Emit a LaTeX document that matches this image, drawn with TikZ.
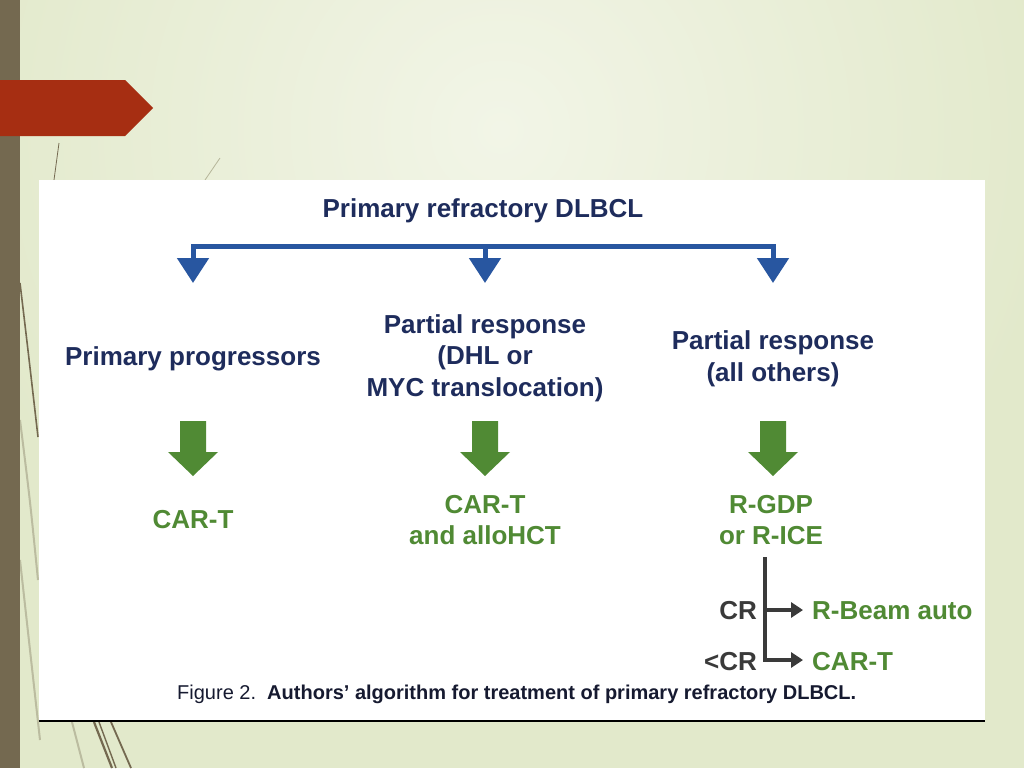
\documentclass[tikz,border=0pt]{standalone}
\usepackage{fontspec}
\setmainfont{Liberation Sans}
\usetikzlibrary{arrows.meta,calc}
\definecolor{bgc}{RGB}{226,233,203}
\definecolor{bglight}{RGB}{242,245,231}
\definecolor{barc}{RGB}{116,105,80}
\definecolor{redc}{RGB}{166,46,18}
\definecolor{navy}{RGB}{30,44,92}
\definecolor{bluec}{RGB}{40,86,160}
\definecolor{greenc}{RGB}{80,138,52}
\definecolor{greyc}{RGB}{58,58,58}
\definecolor{capc}{RGB}{22,26,48}
\tikzset{
  lbl/.style={inner sep=0pt, font=\fontsize{26}{31.5}\selectfont\bfseries, align=center},
  navytxt/.style={lbl, text=navy},
  greentxt/.style={lbl, text=greenc},
  greytxt/.style={lbl, text=greyc},
  bluebr/.style={draw=bluec, line width=5pt, line join=miter},
  bluetip/.style={-{Triangle[width=31pt,length=25pt]}},
  greybr/.style={draw=greyc, line width=4pt, -{Triangle[width=15pt,length=12pt]}},
  garrow/.pic={\fill[greenc] (-13,0) -- (13,0) -- (13,31) -- (25,31) -- (0,55) -- (-25,31) -- (-13,31) -- cycle;},
  deco/.style={draw=barc, line width=1.6pt},
  decolight/.style={draw=barc!35!bgc, line width=2pt}
}
\begin{document}
\begin{tikzpicture}[x=1pt,y=-1pt]
\useasboundingbox (0,0) rectangle (1024,768);
% background
\fill[bgc] (0,0) rectangle (1024,768);
\shade[inner color=bglight, outer color=bgc] (500,130) circle (560);
% decorative thin lines
\draw[barc, line width=0.8pt] (59,143) -- (54,180);
\draw[barc!40!bgc, line width=0.8pt] (220,158) -- (205,180);
\draw[deco] (20,283) .. controls (28,350) .. (38,437);
\draw[decolight] (20,420) .. controls (30,500) .. (38,580);
\draw[decolight] (20,560) .. controls (30,650) .. (40,740);
\draw[decolight] (72,722) -- (84,768);
\draw[deco, line width=2.2pt] (94,722) -- (112,768);
\draw[deco, line width=1.4pt] (99,722) -- (116,768);
\draw[deco, line width=1.8pt] (111,722) -- (131,768);
% left bar
\fill[barc] (0,0) rectangle (20,768);
% red pentagon
\fill[redc] (0,80) -- (125,80) -- (153,108) -- (125,136) -- (0,136) -- cycle;
% white panel
\fill[white] (39,180) rectangle (985,721);
\draw[black, line width=1.3pt] (39,721) -- (985,721);

% title
\node[navytxt] (title) at (483,211) {Primary refractory DLBCL};
% blue bracket
\coordinate (m) at (485,246);
\coordinate (b1) at (193,283);
\coordinate (b2) at (485,283);
\coordinate (b3) at (773,283);
\draw[bluebr, {Triangle[width=31pt,length=25pt]}-{Triangle[width=31pt,length=25pt]}] (b1) |- (m) -| (b3);
\draw[bluebr, bluetip] (m) -- (b2);

% second row
\node[navytxt] (p1) at (193,359) {Primary progressors};
\node[navytxt] (p2) at (485,358) {Partial response\\(DHL or\\MYC translocation)};
\node[navytxt] (p3) at (773,359) {Partial response\\(all others)};

% green block arrows
\pic at (193,421) {garrow};
\pic at (485,421) {garrow};
\pic at (773,421) {garrow};

% treatments
\node[greentxt] (t1) at (193,520) {CAR-T};
\node[greentxt] (t2) at (485,520) {CAR-T\\and alloHCT};
\node[greentxt] (t3) at (771,520) {R-GDP\\or R-ICE};

% response branch
\coordinate (vtop) at (765,557);
\coordinate (vbot) at (765,662);
\coordinate (j1) at (765,610);
\coordinate (e1) at (803,610);
\coordinate (e2) at (803,660);
\node[greytxt, anchor=east] (cr) at (757,611) {CR};
\node[greytxt, anchor=east] (lcr) at (757,662) {<CR};
\node[greentxt, anchor=west] (rb) at (812,611) {R-Beam auto};
\node[greentxt, anchor=west] (ct) at (812,662) {CAR-T};
\draw[greybr, -] (vtop) -- (vbot);
\draw[greybr] (j1) -- (e1);
\draw[greybr, line join=miter] (vtop) |- (e2);

% caption
\node[inner sep=0pt, anchor=west, text=capc, font=\fontsize{20}{24}\selectfont] (cap) at (177,694) {Figure 2.\ \ \textbf{Authors’ algorithm for treatment of primary refractory DLBCL.}};
\end{tikzpicture}
\end{document}
